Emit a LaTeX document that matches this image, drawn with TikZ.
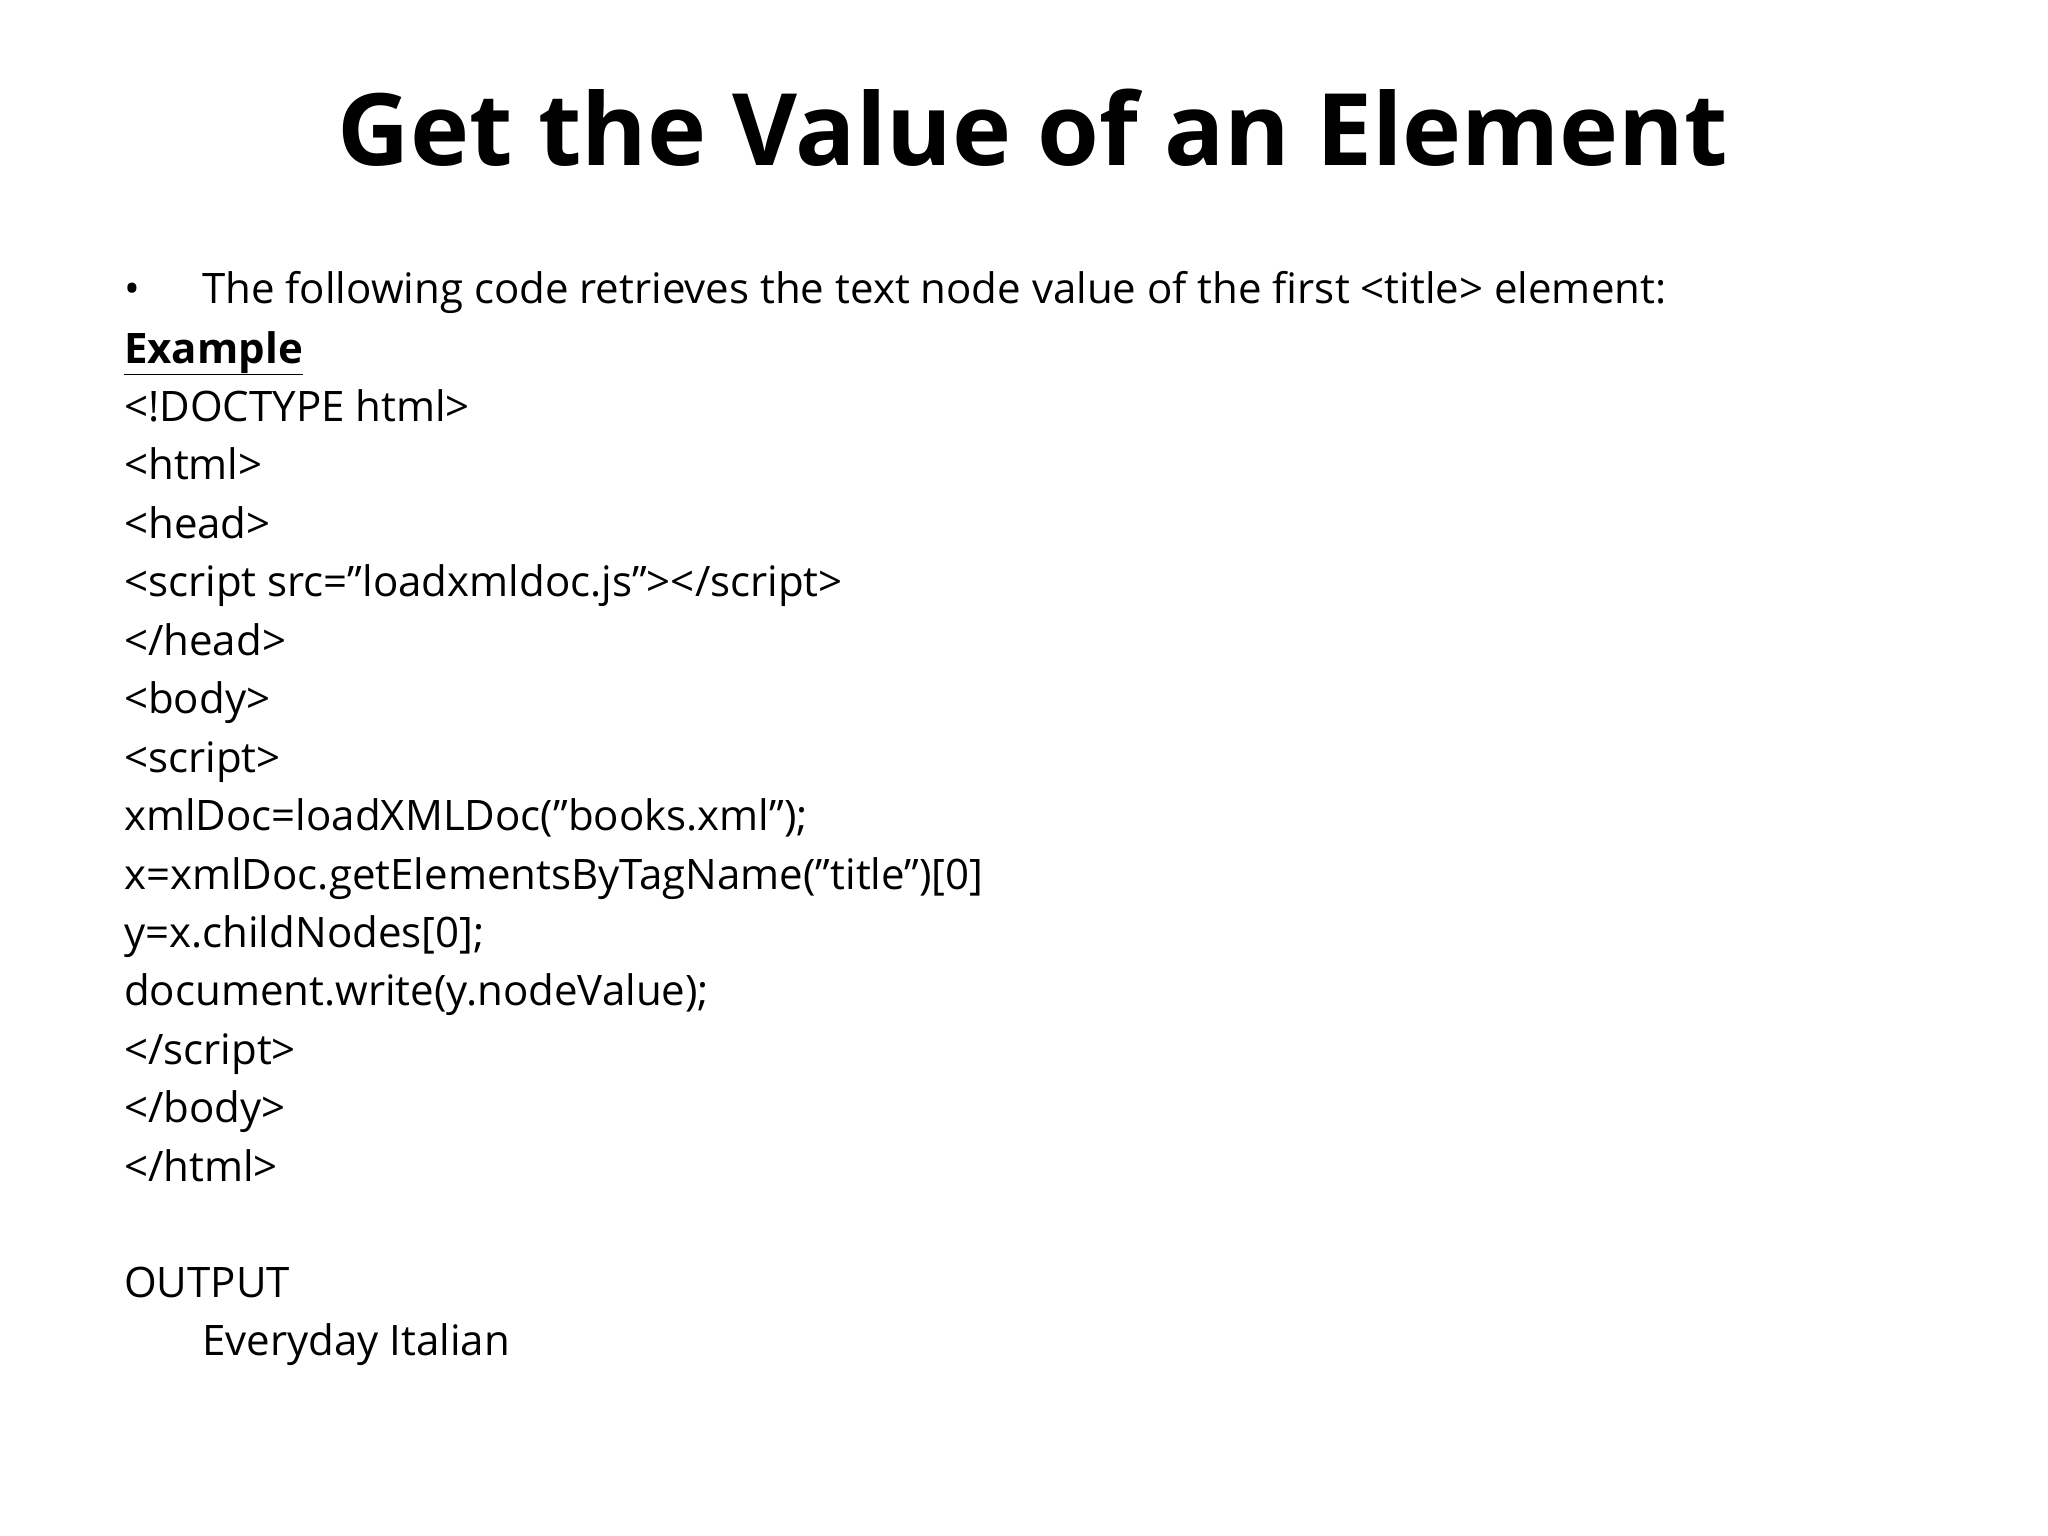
\documentclass[tikz,border=0pt]{standalone}
\usepackage{fontspec}
\setmainfont{Open Sans}[Ligatures=ResetAll]
\begin{document}
\begin{tikzpicture}[x=1pt,y=-1pt,
  ln/.style={anchor=base west,inner sep=0pt,font=\fontsize{42}{50}\selectfont}]
\useasboundingbox (0,0) rectangle (2048,1536);
\node[anchor=base,inner sep=0pt,font=\fontsize{100}{110}\selectfont\bfseries] (title) at (1033,165) {Get the Value of an Element};
\node[ln] (bul) at (124,303) {•};
\node[ln] (l0) at (202,303) {The following code retrieves the text node value of the first <title> element:};
\node[ln] (ex) at (124,363) {\textbf{\underline{Example}}};
\foreach \t [count=\i] in {<!DOCTYPE html>,<html>,<head>,<script src="loadxmldoc.js"></script>,</head>,<body>,<script>,xmlDoc=loadXMLDoc("books.xml");,x=xmlDoc.getElementsByTagName("title")[0],y=x.childNodes[0];,document.write(y.nodeValue);,</script>,</body>,</html>}
  \node[ln] (c\i) at (124,363+58.45*\i) {\t};
\node[ln] (out) at (124,1297) {OUTPUT};
\node[ln] (res) at (202,1355) {Everyday Italian};
\end{tikzpicture}
\end{document}
